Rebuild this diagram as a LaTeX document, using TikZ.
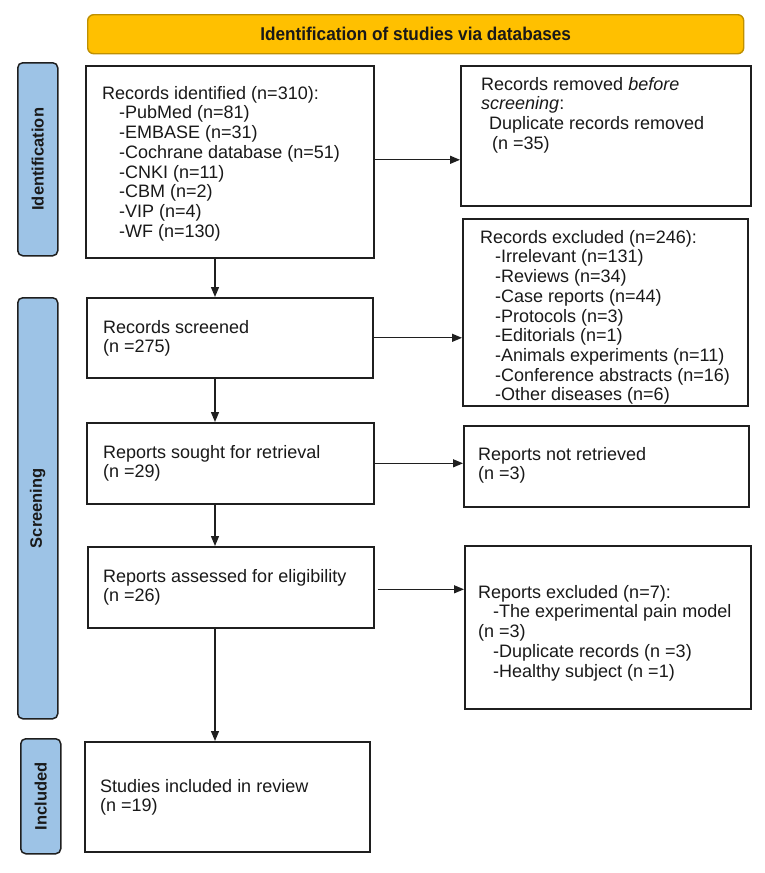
\documentclass[tikz,border=0pt]{standalone}
\usepackage{fontspec}
\setmainfont{Liberation Sans}
\newfontfamily\bannerfont[FakeStretch=0.93]{Liberation Sans}
\usetikzlibrary{arrows.meta}
\definecolor{bannerfill}{HTML}{FFC000}
\definecolor{bannerdraw}{HTML}{BF9000}
\definecolor{sidefill}{HTML}{9DC3E6}
\definecolor{edge}{HTML}{1F1F1F}
\tikzset{
  box/.style={draw=edge, line width=1.6pt, fill=white, inner sep=0pt, anchor=north west},
  txt/.style={font=\fontsize{18}{19.7}\selectfont, align=left, inner sep=0pt, anchor=north west, text=black!90},
  side/.style={draw=edge, line width=1.5pt, fill=sidefill, rounded corners=5pt, inner sep=0pt, anchor=north west},
  sidetxt/.style={font=\fontsize{16.5}{19}\selectfont\bfseries, rotate=90, text=black!90},
  arr/.style={-{Triangle[length=10pt,width=8pt]}, line width=1.3pt, draw=black!88},
}
\begin{document}
\begin{tikzpicture}[x=1pt,y=-1pt]
\useasboundingbox[fill=white] (0,0) rectangle (765,873);

% banner
\node[draw=bannerdraw, line width=1.4pt, fill=bannerfill, rounded corners=6pt, anchor=north west,
      minimum width=656pt, minimum height=39pt, inner sep=0pt] (banner) at (87,14) {};
\node[font=\bannerfont\fontsize{18.5}{20}\selectfont\bfseries, text=black!90] (bannertxt) at (banner.center) {Identification of studies via databases};

% side bars
\node[side, minimum width=40pt, minimum height=193pt] (sideid) at (17,62) {};
\node[sidetxt] (sideidt) at (sideid.center) {Identification};
\node[side, minimum width=40pt, minimum height=421pt] (sidescr) at (17,297) {};
\node[sidetxt] (sidescrt) at (sidescr.center) {Screening};
\node[side, minimum width=40pt, minimum height=115pt] (sideinc) at (20,738) {};
\node[sidetxt] (sideinct) at (sideinc.center) {Included};

% left column boxes
\node[box, minimum width=288pt, minimum height=192pt] (b1) at (85,65) {};
\node[txt] (b1t) at (102,86) {Records identified (n=310):\\
\hspace*{17pt}-PubMed (n=81)\\
\hspace*{17pt}-EMBASE (n=31)\\
\hspace*{17pt}-Cochrane database (n=51)\\
\hspace*{17pt}-CNKI (n=11)\\
\hspace*{17pt}-CBM (n=2)\\
\hspace*{17pt}-VIP (n=4)\\
\hspace*{17pt}-WF (n=130)};

\node[box, minimum width=286pt, minimum height=80pt] (scr) at (86,297) {};
\node[txt] (scrt) at (103,320) {Records screened\\(n =275)};

\node[box, minimum width=287pt, minimum height=81pt] (sou) at (86,422) {};
\node[txt] (sout) at (103,445) {Reports sought for retrieval\\(n =29)};

\node[box, minimum width=286pt, minimum height=81pt] (ass) at (87,546) {};
\node[txt] (asst) at (103,569) {Reports assessed for eligibility\\(n =26)};

\node[box, minimum width=285pt, minimum height=110pt] (inc) at (84,741) {};
\node[txt] (inct) at (100,779) {Studies included in review\\(n =19)};

% right column boxes
\node[box, minimum width=290pt, minimum height=140pt] (b2) at (460,65) {};
\node[txt] (b2t) at (481,77) {Records removed \textit{before}\\
\textit{screening}:\\
\hspace*{8pt}Duplicate records removed\\
\hspace*{11pt}(n =35)};

\node[box, minimum width=285pt, minimum height=187pt] (b3) at (462,218) {};
\node[txt] (b3t) at (480,230) {Records excluded (n=246):\\
\hspace*{15pt}-Irrelevant (n=131)\\
\hspace*{15pt}-Reviews (n=34)\\
\hspace*{15pt}-Case reports (n=44)\\
\hspace*{15pt}-Protocols (n=3)\\
\hspace*{15pt}-Editorials (n=1)\\
\hspace*{15pt}-Animals experiments (n=11)\\
\hspace*{15pt}-Conference abstracts (n=16)\\
\hspace*{15pt}-Other diseases (n=6)};

\node[box, minimum width=285pt, minimum height=81pt] (nr) at (463,425) {};
\node[txt] (nrt) at (478,447) {Reports not retrieved\\(n =3)};

\node[box, minimum width=286pt, minimum height=163pt] (ex) at (464,545) {};
\node[txt] (ext) at (478,585) {Reports excluded (n=7):\\
\hspace*{15pt}-The experimental pain model\\
(n =3)\\
\hspace*{15pt}-Duplicate records (n =3)\\
\hspace*{15pt}-Healthy subject (n =1)};

% connectors
\coordinate (ax) at (215,0);
\draw[arr] (b1.south -| ax) -- (scr.north -| ax);
\draw[arr] (scr.south -| ax) -- (sou.north -| ax);
\draw[arr] (sou.south -| ax) -- (ass.north -| ax);
\draw[arr] (ass.south -| ax) -- (inc.north -| ax);

\draw[arr] ([yshift=2pt]b1.east) -- ([yshift=2pt]b1.east -| b2.west);
\draw[arr] (scr.east) -- (scr.east -| b3.west);
\draw[arr] (sou.east) -- (sou.east -| nr.west);
\draw[arr, shorten <=3pt] ([yshift=-2pt]ass.east) -- ([yshift=-2pt]ass.east -| ex.west);
\end{tikzpicture}
\end{document}
